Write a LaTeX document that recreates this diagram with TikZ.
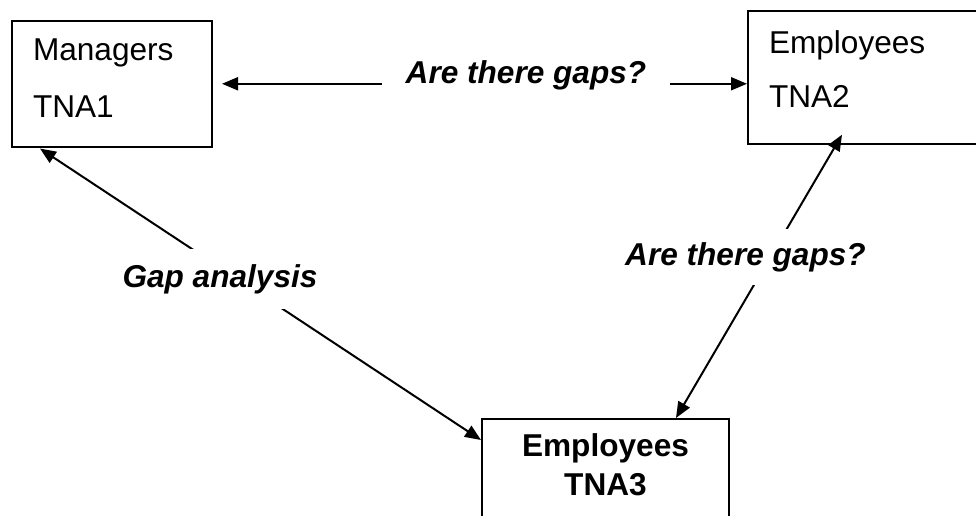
\documentclass[tikz,border=0pt]{standalone}
\usepackage{fontspec}
\setmainfont{Liberation Sans}
\usetikzlibrary{arrows.meta}

\begin{document}
\begin{tikzpicture}[x=0.5pt,y=-0.5pt,>={Triangle[length=8pt,width=6.5pt]}]
					\tikzstyle{box} = [rectangle,draw=black,line width=1pt,fill=white,anchor=north west,inner xsep=10.5pt,align=left]
					\tikzstyle{gap} = [fill=white,font=\fontsize{15.8}{18}\selectfont\bfseries\itshape]
					\tikzstyle{edge} = [line width=1pt]
					\useasboundingbox (0,0) rectangle (976,515);
					\clip (0,0) rectangle (976,515);
					\node[box,text width=79pt,inner ysep=9pt,text depth=33.9pt,font=\fontsize{15.8}{28.5}\selectfont] (tna1) at (11,20) {Managers\\TNA1};
					\node[box,text width=105.5pt,inner ysep=10pt,text depth=34.9pt,font=\fontsize{15.8}{27}\selectfont] (tna2) at (747,10) {Employees\\TNA2};
					\node[box,anchor=north,align=center,text width=102.5pt,inner ysep=7.5pt,text depth=50pt,font=\fontsize{15.8}{19.5}\selectfont\bfseries] (tna3) at (605.5,418) {Employees\\TNA3};
					\draw[edge,<->,shorten <=4.5pt] (tna1.east) -- (tna1.east -| tna2.west);
					\draw[edge,<->] ([xshift=14.5pt,yshift=-0.5pt]tna1.south west) -- ([yshift=-11pt]tna3.north west);
					\draw[edge,<->] ([xshift=47.5pt,yshift=5pt]tna2.south west) -- ([xshift=97.5pt]tna3.north west);
					\node[gap,inner xsep=12pt,inner ysep=1pt,anchor=base] (gap1) at (526,83) {Are there gaps?};
					\node[gap,inner xsep=2pt,inner ysep=7.5pt] (gap2) at (220,279) {Gap analysis};
					\node[gap,inner xsep=2pt,inner ysep=6.5pt] (gap3) at (745.5,257) {Are there gaps?};
					\end{tikzpicture}
\end{document}
